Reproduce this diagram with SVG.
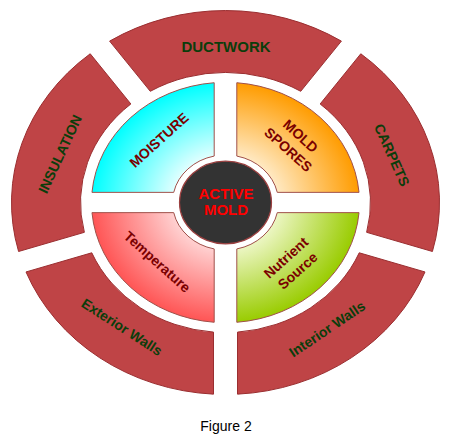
<svg xmlns="http://www.w3.org/2000/svg" width="462" height="439" viewBox="0 0 462 439">
<style>
.seg{fill:#BF4446;stroke:#9A2E30;stroke-width:1;vector-effect:non-scaling-stroke}
.quad{stroke:#A0504A;stroke-width:1;vector-effect:non-scaling-stroke}
.rt{font-family:"Liberation Sans",Arial,sans-serif;font-weight:bold;font-size:14px;fill:#0B3D0B;text-anchor:middle}
.qt{font-family:"Liberation Sans",Arial,sans-serif;font-weight:bold;font-size:14px;fill:#7A0000;text-anchor:middle}
.ct{font-family:"Liberation Sans",Arial,sans-serif;font-weight:bold;font-size:15px;fill:#FF0000;text-anchor:middle}
.cap{font-family:"Liberation Sans",Arial,sans-serif;font-size:14px;fill:#000000;text-anchor:middle}
</style>
<defs>
<radialGradient id="gCyan" gradientUnits="userSpaceOnUse" cx="0" cy="0" r="134"><stop offset="0.38" stop-color="#E6FFFF"/><stop offset="1" stop-color="#00FFFF"/></radialGradient>
<radialGradient id="gOrange" gradientUnits="userSpaceOnUse" cx="0" cy="0" r="134"><stop offset="0.38" stop-color="#FFEBC8"/><stop offset="1" stop-color="#FF9C00"/></radialGradient>
<radialGradient id="gRed" gradientUnits="userSpaceOnUse" cx="0" cy="0" r="134"><stop offset="0.38" stop-color="#FFD4D4"/><stop offset="1" stop-color="#FF5555"/></radialGradient>
<radialGradient id="gGreen" gradientUnits="userSpaceOnUse" cx="0" cy="0" r="134"><stop offset="0.38" stop-color="#EEF7C8"/><stop offset="1" stop-color="#99CC00"/></radialGradient>
</defs>
<g id="connectors"/>
<g id="ductwork">
<path class="seg" transform="translate(225.5 202.5) scale(1 0.897)" d="M -115.880 -179.910 A 214 214 0 0 1 115.880 -179.910 L 75.228 -123.958 A 145 145 0 0 0 -75.228 -123.958 Z"/>
<text class="rt" x="226" y="51.5" style="font-size:15px">DUCTWORK</text>
</g>
<g id="carpets">
<path class="seg" transform="translate(225.5 202.5) scale(1 0.897)" d="M 135.296 -165.804 A 214 214 0 0 1 206.914 54.612 L 141.138 33.241 A 145 145 0 0 0 94.644 -109.852 Z"/>
<text class="rt" transform="translate(392 155) rotate(66)" y="5">CARPETS</text>
</g>
<g id="interior-walls">
<path class="seg" transform="translate(225.5 202.5) scale(1 0.897)" d="M 199.498 77.438 A 214 214 0 0 1 12 213.663 L 12 144.503 A 145 145 0 0 0 133.722 56.067 Z"/>
<text class="rt" transform="translate(327 329) rotate(-34)" y="5">Interior Walls</text>
</g>
<g id="exterior-walls">
<path class="seg" transform="translate(225.5 202.5) scale(1 0.897)" d="M -12 213.663 A 214 214 0 0 1 -199.498 77.438 L -133.722 56.067 A 145 145 0 0 0 -12 144.503 Z"/>
<text class="rt" transform="translate(122 327) rotate(33)" y="5">Exterior Walls</text>
</g>
<g id="insulation">
<path class="seg" transform="translate(225.5 202.5) scale(1 0.897)" d="M -206.914 54.612 A 214 214 0 0 1 -135.296 -165.804 L -94.644 -109.852 A 145 145 0 0 0 -141.138 33.241 Z"/>
<text class="rt" transform="translate(60 154) rotate(-65)" y="5">INSULATION</text>
</g>
<g id="moisture">
<path class="quad" fill="url(#gCyan)" transform="translate(225.5 202.5) scale(1 0.897)" d="M -133.523 -11.3 A 134 134 0 0 1 -11.3 -133.523 L -11.3 -51.78 A 53 53 0 0 0 -51.78 -11.3 Z"/>
<text class="qt" transform="translate(159 140) rotate(-42)" y="5">MOISTURE</text>
</g>
<g id="mold-spores">
<path class="quad" fill="url(#gOrange)" transform="translate(225.5 202.5) scale(1 0.897)" d="M 11.3 -133.523 A 134 134 0 0 1 133.523 -11.3 L 51.78 -11.3 A 53 53 0 0 0 11.3 -51.78 Z"/>
<text class="qt" transform="translate(294.6 142.6) rotate(42)"><tspan x="0" y="-4">MOLD</tspan><tspan x="0" y="14.4">SPORES</tspan></text>
</g>
<g id="nutrient-source">
<path class="quad" fill="url(#gGreen)" transform="translate(225.5 202.5) scale(1 0.897)" d="M 133.523 11.3 A 134 134 0 0 1 11.3 133.523 L 11.3 51.78 A 53 53 0 0 0 51.78 11.3 Z"/>
<text class="qt" transform="translate(291.7 264.2) rotate(-42)"><tspan x="0" y="-3.8">Nutrient</tspan><tspan x="0" y="13.8">Source</tspan></text>
</g>
<g id="temperature">
<path class="quad" fill="url(#gRed)" transform="translate(225.5 202.5) scale(1 0.897)" d="M -11.3 133.523 A 134 134 0 0 1 -133.523 11.3 L -51.78 11.3 A 53 53 0 0 0 -11.3 51.78 Z"/>
<text class="qt" transform="translate(157.3 261.7) rotate(42)" y="5">Temperature</text>
</g>
<g id="active-mold">
<ellipse cx="225.5" cy="202.5" rx="46" ry="41.3" fill="#333333" stroke="#9B4040" stroke-width="1.2"/>
<text class="ct" x="226" y="199">ACTIVE</text>
<text class="ct" x="226" y="215">MOLD</text>
</g>
<g id="caption">
<text class="cap" x="226" y="430.5">Figure 2</text>
</g>
</svg>
